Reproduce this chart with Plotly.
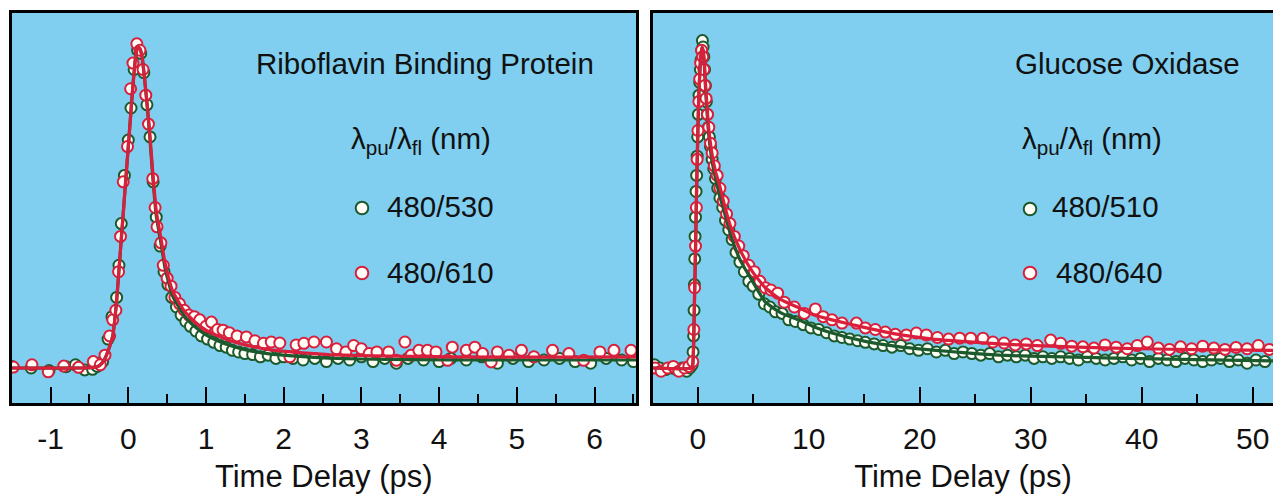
import plotly.graph_objects as go

# ---------------- Data (normalised fluorescence vs time delay) ----------------
# Left panel: Riboflavin Binding Protein
rbp_530_t = [-1.50, -1.25, -1.02, -0.80, -0.68, -0.56, -0.46, -0.40, -0.33, -0.26, -0.21, -0.15, -0.12, -0.09, -0.05,
             0.00, 0.035, 0.075, 0.12, 0.16, 0.20, 0.24, 0.28, 0.32, 0.36, 0.41, 0.46, 0.51, 0.56, 0.62, 0.68, 0.74,
             0.80, 0.87, 0.94, 1.02, 1.10, 1.18, 1.26, 1.34, 1.42, 1.50, 1.60, 1.70, 1.80, 1.90, 2.00, 2.12, 2.25,
             2.40, 2.55, 2.70, 2.85, 3.00, 3.15, 3.30, 3.45, 3.60, 3.80, 4.00, 4.15, 4.35, 4.55, 4.75, 4.95, 5.15,
             5.35, 5.55, 5.75, 5.95, 6.15, 6.35, 6.50]
rbp_530_v = [0.005, 0.000, -0.008, 0.004, 0.010, -0.006, -0.004, 0.005, 0.020, 0.090, 0.160, 0.220, 0.320, 0.450, 0.600,
             0.710, 0.810, 0.930, 0.990, 0.980, 0.920, 0.820, 0.720, 0.580, 0.470, 0.380, 0.300, 0.260, 0.220, 0.190,
             0.165, 0.145, 0.130, 0.115, 0.100, 0.090, 0.080, 0.070, 0.065, 0.055, 0.050, 0.045, 0.042, 0.035, 0.040,
             0.030, 0.035, 0.030, 0.025, 0.030, 0.020, 0.030, 0.025, 0.035, 0.020, 0.030, 0.015, 0.030, 0.025, 0.020,
             0.030, 0.025, 0.035, 0.015, 0.030, 0.020, 0.025, 0.030, 0.020, 0.015, 0.030, 0.025, 0.020]
rbp_610_t = [-1.48, -1.24, -1.03, -0.83, -0.64, -0.45, -0.36, -0.30, -0.24, -0.20, -0.16, -0.125, -0.10, -0.065, -0.01,
             0.03, 0.06, 0.11, 0.15, 0.19, 0.225, 0.26, 0.315, 0.345, 0.37, 0.42, 0.45, 0.50, 0.55, 0.60, 0.66, 0.72,
             0.78, 0.85, 0.92, 1.00, 1.07, 1.15, 1.22, 1.30, 1.40, 1.52, 1.63, 1.74, 1.84, 1.95, 2.08, 2.16, 2.26,
             2.39, 2.55, 2.68, 2.80, 2.90, 3.00, 3.10, 3.20, 3.35, 3.45, 3.56, 3.64, 3.74, 3.85, 3.96, 4.11, 4.17,
             4.35, 4.46, 4.56, 4.67, 4.75, 4.90, 5.06, 5.22, 5.46, 5.67, 5.86, 6.07, 6.25, 6.47]
rbp_610_v = [0.003, 0.010, -0.012, 0.006, 0.002, 0.020, 0.010, 0.040, 0.100, 0.150, 0.180, 0.300, 0.410, 0.580, 0.690,
             0.870, 0.950, 1.010, 0.990, 0.930, 0.850, 0.760, 0.590, 0.500, 0.440, 0.390, 0.320, 0.280, 0.255, 0.220,
             0.200, 0.180, 0.165, 0.160, 0.150, 0.130, 0.143, 0.120, 0.118, 0.110, 0.100, 0.097, 0.085, 0.077, 0.081,
             0.078, 0.035, 0.072, 0.077, 0.081, 0.081, 0.060, 0.050, 0.070, 0.060, 0.045, 0.050, 0.050, 0.024, 0.081,
             0.040, 0.055, 0.055, 0.050, 0.024, 0.065, 0.055, 0.065, 0.045, 0.019, 0.050, 0.040, 0.055, 0.035, 0.055,
             0.045, 0.024, 0.050, 0.055, 0.055]
rbp_fit_t = [-1.503, -0.60, -0.45, -0.40, -0.35, -0.30, -0.25, -0.20, -0.15, -0.10, -0.05, 0.00, 0.05, 0.09, 0.12,
             0.15, 0.18, 0.23, 0.27, 0.32, 0.36, 0.43, 0.47, 0.52, 0.57, 0.65, 0.73, 0.85, 1.00, 1.15, 1.31, 1.50,
             1.79, 2.20, 2.58, 3.00, 3.64, 4.69, 5.50, 6.534]
rbp_610_fit = [0.0, 0.0, 0.002, 0.004, 0.012, 0.03, 0.06, 0.10, 0.21, 0.37, 0.53, 0.69, 0.85, 0.96, 1.0, 0.995, 0.965,
               0.855, 0.75, 0.595, 0.49, 0.39, 0.33, 0.28, 0.24, 0.205, 0.175, 0.145, 0.118, 0.10, 0.085, 0.072,
               0.058, 0.048, 0.042, 0.039, 0.036, 0.034, 0.034, 0.035]
rbp_530_fit = [0.0, 0.0, 0.002, 0.004, 0.012, 0.03, 0.06, 0.10, 0.21, 0.37, 0.53, 0.69, 0.85, 0.96, 1.0, 0.995, 0.965,
               0.85, 0.74, 0.58, 0.475, 0.375, 0.315, 0.265, 0.225, 0.19, 0.16, 0.13, 0.103, 0.085, 0.07, 0.057,
               0.045, 0.036, 0.031, 0.028, 0.026, 0.025, 0.025, 0.025]

# Right panel: Glucose Oxidase
go_510_t = [-3.90, -3.40, -2.90, -2.40, -1.90, -1.40, -1.00, -0.70, -0.50, -0.42, -0.37, -0.33, -0.30, -0.27, -0.24,
            -0.20, -0.15, -0.10, -0.05, 0.00, 0.06, 0.12, 0.18, 0.24, 0.30, 0.36, 0.42, 0.48, 0.55, 0.62, 0.70, 0.78,
            0.86, 0.95, 1.05, 1.15, 1.30, 1.45, 1.60, 1.80, 2.00, 2.25, 2.50, 2.80, 3.10, 3.45, 3.80, 4.20, 4.60,
            5.00, 5.50, 6.00, 6.50, 7.00, 7.60, 8.20, 8.80, 9.50, 10.20, 10.90, 11.60, 12.30, 13.00, 13.70, 14.40,
            15.10, 15.90, 16.70, 17.50, 18.30, 19.10, 19.90, 20.70, 21.50, 22.30, 23.10, 23.90, 24.70, 25.50, 26.30,
            27.10, 27.90, 28.70, 29.50, 30.30, 31.10, 31.90, 32.70, 33.50, 34.30, 35.10, 35.90, 36.70, 37.50, 38.30,
            39.10, 39.90, 40.70, 41.50, 42.30, 43.10, 43.90, 44.70, 45.50, 46.30, 47.10, 47.90, 48.70, 49.50, 50.30,
            51.10]
go_510_v = [0.010, 0.000, -0.005, 0.000, -0.005, 0.000, -0.010, 0.000, 0.010, 0.050, 0.100, 0.180, 0.260, 0.340,
            0.410, 0.470, 0.550, 0.600, 0.660, 0.720, 0.790, 0.850, 0.890, 0.930, 0.960, 0.990, 1.020, 1.000, 0.970,
            0.930, 0.880, 0.830, 0.790, 0.750, 0.720, 0.690, 0.650, 0.620, 0.590, 0.560, 0.530, 0.500, 0.460, 0.430,
            0.400, 0.360, 0.330, 0.300, 0.270, 0.255, 0.230, 0.200, 0.190, 0.175, 0.170, 0.150, 0.145, 0.135, 0.125,
            0.120, 0.110, 0.100, 0.095, 0.090, 0.085, 0.080, 0.075, 0.070, 0.065, 0.070, 0.060, 0.055, 0.060, 0.050,
            0.055, 0.045, 0.050, 0.045, 0.040, 0.045, 0.035, 0.040, 0.035, 0.040, 0.030, 0.035, 0.030, 0.035, 0.030,
            0.025, 0.035, 0.030, 0.025, 0.030, 0.035, 0.025, 0.030, 0.020, 0.030, 0.025, 0.020, 0.030, 0.025, 0.020,
            0.025, 0.030, 0.020, 0.025, 0.015, 0.025, 0.020]
go_640_t = [-3.85, -3.30, -2.70, -2.20, -1.70, -1.20, -0.80, -0.45, -0.35, -0.28, -0.20, -0.12, -0.05, 0.02, 0.10,
            0.18, 0.26, 0.35, 0.45, 0.55, 0.65, 0.75, 0.88, 1.00, 1.15, 1.30, 1.50, 1.75, 2.00, 2.30, 2.60, 2.90,
            3.30, 3.70, 4.10, 4.60, 5.10, 5.60, 6.10, 6.60, 7.20, 7.80, 8.70, 9.60, 10.60, 11.30, 12.10, 13.00,
            14.30, 15.10, 16.00, 16.90, 17.80, 18.80, 19.70, 20.60, 21.60, 22.60, 23.60, 24.60, 25.70, 26.60, 27.60,
            28.60, 29.60, 30.60, 31.80, 32.70, 33.70, 34.70, 35.70, 36.70, 37.70, 38.70, 39.60, 40.50, 41.50, 42.50,
            43.50, 44.50, 45.50, 46.50, 47.50, 48.50, 49.50, 50.50, 51.50]
go_640_v = [0.000, -0.010, 0.000, 0.005, -0.010, 0.000, 0.005, 0.020, 0.120, 0.250, 0.380, 0.500, 0.650, 0.740, 0.830,
            0.900, 0.950, 0.990, 0.970, 0.930, 0.880, 0.840, 0.790, 0.750, 0.700, 0.670, 0.630, 0.600, 0.560, 0.520,
            0.480, 0.450, 0.410, 0.380, 0.350, 0.320, 0.300, 0.270, 0.250, 0.243, 0.233, 0.205, 0.190, 0.170, 0.184,
            0.160, 0.150, 0.140, 0.140, 0.125, 0.120, 0.112, 0.105, 0.103, 0.109, 0.103, 0.095, 0.090, 0.093, 0.093,
            0.093, 0.081, 0.078, 0.072, 0.075, 0.070, 0.087, 0.077, 0.068, 0.066, 0.062, 0.072, 0.065, 0.060, 0.070,
            0.081, 0.062, 0.058, 0.066, 0.060, 0.068, 0.062, 0.058, 0.064, 0.060, 0.070, 0.058]
go_fit_t = [-4.03, -0.55, -0.45, -0.38, -0.30, -0.20, -0.10, 0.00, 0.10, 0.20, 0.30, 0.40, 0.50, 0.60, 0.72, 0.85,
            0.98, 1.27, 1.64, 2.00, 2.37, 2.92, 3.83, 4.93, 6.10, 7.50, 9.10, 10.50, 12.10, 15.20, 18.20, 21.20,
            24.20, 27.20, 31.00, 35.00, 40.00, 45.00, 51.83]
go_640_fit = [0.0, 0.0, 0.01, 0.06, 0.20, 0.37, 0.56, 0.72, 0.85, 0.93, 0.98, 1.0, 0.985, 0.95, 0.875, 0.81, 0.75,
              0.67, 0.607, 0.565, 0.513, 0.445, 0.367, 0.30, 0.250, 0.213, 0.188, 0.165, 0.150, 0.125, 0.104, 0.090,
              0.082, 0.075, 0.069, 0.064, 0.060, 0.057, 0.055]
go_510_fit = [0.0, 0.0, 0.01, 0.06, 0.20, 0.37, 0.56, 0.72, 0.85, 0.93, 0.98, 1.0, 0.985, 0.94, 0.86, 0.79, 0.73,
              0.648, 0.585, 0.533, 0.49, 0.42, 0.336, 0.27, 0.205, 0.172, 0.150, 0.128, 0.109, 0.082, 0.066, 0.056,
              0.047, 0.040, 0.036, 0.033, 0.029, 0.026, 0.022]

# Tick labels
left_tickvals = [-1, 0, 1, 2, 3, 4, 5, 6]
left_ticktext = ["-1", "0", "1", "2", "3", "4", "5", "6"]
right_tickvals = [0, 10, 20, 30, 40, 50]
right_ticktext = ["0", "10", "20", "30", "40", "50"]

panel_titles = ["Riboflavin Binding Protein", "Glucose Oxidase"]
series_labels = [["480/530", "480/610"], ["480/510", "480/640"]]
lambda_label = "λ<sub>pu</sub>/λ<sub>fl</sub> (nm)"
x_title = "Time Delay (ps)"

# ---------------- Styling ----------------
W, H = 1273, 496
MT, MB = 13, 93
PH = H - MT - MB
BG = "#80CFF0"
RED = "#DA1F3D"
GRN = "#1B5A2C"
FILL = "#FFFDF6"
FONT = "Liberation Sans, Arial, Helvetica, sans-serif"
FS_TEXT = 29.5
FS_TICK = 30
FS_TITLE = 31

fig = go.Figure()


def markers(t, v, edge, xa, ya):
    fig.add_trace(go.Scatter(x=t, y=v, mode="markers", xaxis=xa, yaxis=ya, showlegend=False,
                             marker=dict(symbol="circle", size=11, color=FILL,
                                         line=dict(color=edge, width=2))))


def curve(t, v, color, xa, ya):
    fig.add_trace(go.Scatter(x=t, y=v, mode="lines", xaxis=xa, yaxis=ya, showlegend=False,
                             line=dict(color=color, width=3.2, shape="spline", smoothing=0.5)))


markers(rbp_530_t, rbp_530_v, GRN, "x", "y")
markers(rbp_610_t, rbp_610_v, RED, "x", "y")
curve(rbp_fit_t, rbp_530_fit, GRN, "x", "y")
curve(rbp_fit_t, rbp_610_fit, RED, "x", "y")

markers(go_510_t, go_510_v, GRN, "x2", "y2")
markers(go_640_t, go_640_v, RED, "x2", "y2")
curve(go_fit_t, go_510_fit, GRN, "x2", "y2")
curve(go_fit_t, go_640_fit, RED, "x2", "y2")

xcommon = dict(showline=True, linewidth=3, linecolor="black", ticks="inside", ticklen=16, tickwidth=2,
               tickcolor="black", showgrid=False, zeroline=False, automargin=False,
               tickfont=dict(size=FS_TICK, family=FONT, color="#111111"), ticklabelstandoff=7,
               title=dict(text=x_title, font=dict(size=FS_TITLE, family=FONT, color="#111111"), standoff=12))
ycommon = dict(showline=True, linewidth=3, linecolor="black", showticklabels=False, ticks="",
               showgrid=False, zeroline=False, range=[-0.109, 1.106], domain=[0, 1], automargin=False)

fig.update_layout(
    width=W, height=H, margin=dict(l=0, r=0, t=MT, b=MB),
    paper_bgcolor="white", plot_bgcolor=BG, showlegend=False,
    font=dict(family=FONT, color="#111111", size=FS_TEXT),
    xaxis=dict(xcommon, domain=[11.5 / W, 636 / W], range=[-1.503, 6.534], mirror=True, anchor="y",
               tickvals=left_tickvals, ticktext=left_ticktext,
               minor=dict(ticks="inside", dtick=0.5, tick0=0, ticklen=9, tickwidth=2, tickcolor="black")),
    yaxis=dict(ycommon, anchor="x", mirror=True),
    xaxis2=dict(xcommon, domain=[653 / W, 1.0], range=[-4.03, 51.83], mirror=True, anchor="y2",
                tickvals=right_tickvals, ticktext=right_ticktext,
                minor=dict(ticks="inside", dtick=5, tick0=0, ticklen=9, tickwidth=2, tickcolor="black")),
    yaxis2=dict(ycommon, anchor="x2", mirror=False),
)


def py(ypix):
    return (H - MB - ypix) / PH


def text(x, y, s):
    fig.add_annotation(x=x / W, y=py(y), xref="paper", yref="paper", text=s, showarrow=False,
                       xanchor="left", yanchor="middle", font=dict(size=FS_TEXT, family=FONT, color="#111111"))


def key(cx, cy, edge, r=6.3):
    fig.add_shape(type="circle", xref="paper", yref="paper",
                  x0=(cx - r) / W, x1=(cx + r) / W, y0=py(cy + r), y1=py(cy - r),
                  line=dict(color=edge, width=2), fillcolor=FILL)


# Left panel texts
text(254, 64, panel_titles[0])
text(349, 140, lambda_label)
key(362, 208, GRN)
text(385, 206, series_labels[0][0])
key(362, 273, RED)
text(385, 272, series_labels[0][1])

# Right panel texts
text(1013, 64, panel_titles[1])
text(1020, 140, lambda_label)
key(1030, 209, GRN)
text(1050, 206, series_labels[1][0])
key(1030, 273, RED)
text(1054, 272, series_labels[1][1])

fig.write_html("out.html", config={"displayModeBar": False, "staticPlot": True},
               post_script="document.body.style.margin='0px';document.body.style.overflow='hidden';")
